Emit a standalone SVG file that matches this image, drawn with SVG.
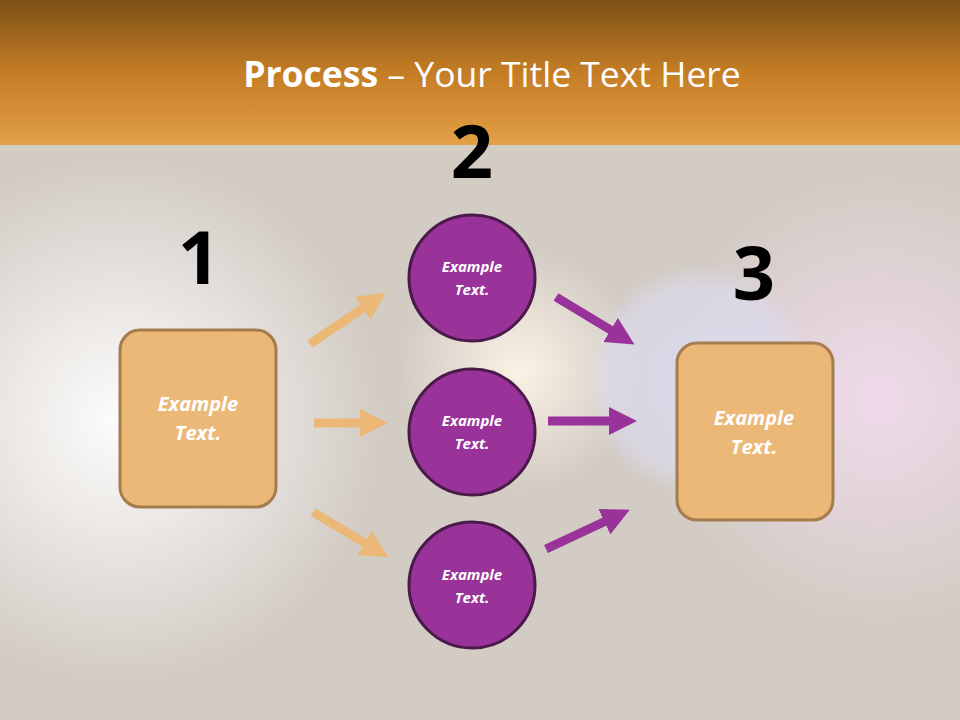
<svg xmlns="http://www.w3.org/2000/svg" width="960" height="720" viewBox="0 0 960 720">
<style>
.lbl{font-family:"Open Sans","Liberation Sans",sans-serif;font-weight:bold;font-style:italic;fill:#fff;text-anchor:middle}
.num{font-family:"Open Sans","Liberation Sans",sans-serif;font-weight:bold;fill:#000;text-anchor:middle;font-size:74px}
.box{fill:#ebb877;stroke:#a57c4e;stroke-width:3}
.circ{fill:#993399;stroke:#4a1a4a;stroke-width:3}
.ao{stroke:#ebb877;stroke-width:9;fill:none}
.ap{stroke:#993399;stroke-width:9;fill:none}
</style>
<defs>
<linearGradient id="hdr" x1="0" y1="0" x2="0" y2="1">
<stop offset="0" stop-color="#7b5016"/><stop offset="0.5" stop-color="#c57d25"/><stop offset="1" stop-color="#e3a046"/>
</linearGradient>
<radialGradient id="g1"><stop offset="0" stop-color="#fff" stop-opacity="0.95"/><stop offset="1" stop-color="#fff" stop-opacity="0"/></radialGradient>
<radialGradient id="g2"><stop offset="0" stop-color="#f3dcef" stop-opacity="0.9"/><stop offset="1" stop-color="#f3dcef" stop-opacity="0"/></radialGradient>
<radialGradient id="g3"><stop offset="0" stop-color="#fff6e8" stop-opacity="0.9"/><stop offset="1" stop-color="#fff6e8" stop-opacity="0"/></radialGradient>
<radialGradient id="g4"><stop offset="0" stop-color="#dcdcf2" stop-opacity="0.8"/><stop offset="0.8" stop-color="#dcdcf2" stop-opacity="0.6"/><stop offset="1" stop-color="#dcdcf2" stop-opacity="0"/></radialGradient>
<marker id="mo" markerUnits="userSpaceOnUse" markerWidth="30" markerHeight="30" refX="4" refY="14" orient="auto"><path d="M0,0 L28,14 L0,28 Z" fill="#ebb877"/></marker>
<marker id="mp" markerUnits="userSpaceOnUse" markerWidth="30" markerHeight="30" refX="4" refY="14" orient="auto"><path d="M0,0 L28,14 L0,28 Z" fill="#993399"/></marker>
</defs>
<rect width="960" height="720" fill="#d3ccc5"/>
<circle cx="120" cy="420" r="260" fill="url(#g1)"/>
<circle cx="520" cy="370" r="120" fill="url(#g3)"/>
<circle cx="880" cy="400" r="220" fill="url(#g2)"/>
<circle cx="700" cy="380" r="115" fill="url(#g4)"/>
<rect width="960" height="145" fill="url(#hdr)"/>
<text x="492" y="87" text-anchor="middle" font-family="'Open Sans','Liberation Sans',sans-serif" font-size="35.5" fill="#fff"><tspan font-weight="bold">Process</tspan> – Your Title Text Here</text>
<g id="connectors">
<line class="ao" x1="310" y1="344" x2="366" y2="306" marker-end="url(#mo)"/>
<line class="ao" x1="314" y1="423" x2="364" y2="423" marker-end="url(#mo)"/>
<line class="ao" x1="313" y1="512" x2="368" y2="545" marker-end="url(#mo)"/>
<line class="ap" x1="556" y1="297" x2="614" y2="332" marker-end="url(#mp)"/>
<line class="ap" x1="548" y1="421" x2="613" y2="421" marker-end="url(#mp)"/>
<line class="ap" x1="546" y1="549" x2="608" y2="520" marker-end="url(#mp)"/>
</g>
<g id="n1"><text class="num" x="199" y="284">1</text><rect class="box" x="120" y="330" width="156" height="177" rx="20"/><text class="lbl" x="198" y="411" font-size="20">Example</text><text class="lbl" x="198" y="440" font-size="20">Text.</text></g>
<g id="n2"><text class="num" x="472" y="178">2</text><circle class="circ" cx="472" cy="278" r="63"/><text class="lbl" x="472" y="272" font-size="15">Example</text><text class="lbl" x="472" y="295" font-size="15">Text.</text></g>
<g id="n2b"><circle class="circ" cx="472" cy="432" r="63"/><text class="lbl" x="472" y="426" font-size="15">Example</text><text class="lbl" x="472" y="449" font-size="15">Text.</text></g>
<g id="n2c"><circle class="circ" cx="472" cy="585" r="63"/><text class="lbl" x="472" y="580" font-size="15">Example</text><text class="lbl" x="472" y="603" font-size="15">Text.</text></g>
<g id="n3"><text class="num" x="754" y="300">3</text><rect class="box" x="677" y="343" width="156" height="177" rx="20"/><text class="lbl" x="754" y="425" font-size="20">Example</text><text class="lbl" x="754" y="454" font-size="20">Text.</text></g>
</svg>
